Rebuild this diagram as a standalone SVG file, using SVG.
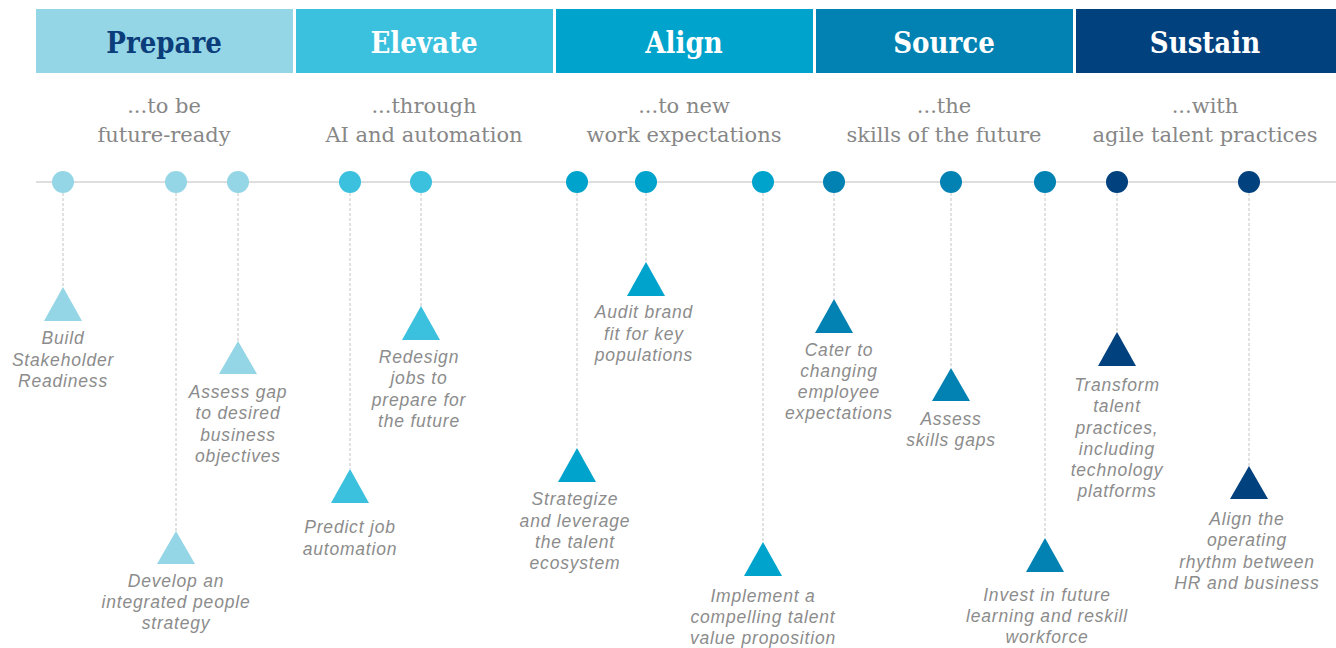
<svg xmlns="http://www.w3.org/2000/svg" width="1336" height="648" viewBox="0 0 1336 648">
<style>
.hdr{font-family:"DejaVu Serif Condensed","DejaVu Serif","Liberation Serif",serif;font-stretch:condensed;font-size:29px;font-weight:bold;text-anchor:middle}
.sub{font-family:"DejaVu Serif","Liberation Serif",serif;font-size:21px;fill:#878787;text-anchor:middle}
.lbl{font-family:"Liberation Sans",Arial,sans-serif;font-size:17.5px;font-style:italic;fill:#8c8c8c;text-anchor:middle;letter-spacing:0.8px}
.dash{stroke:#c4c4c4;stroke-width:1;stroke-dasharray:3 2;fill:none}
.c1{fill:#94D6E6}.c2{fill:#3BC1DE}.c3{fill:#00A3CB}.c4{fill:#0282B3}.c5{fill:#01417E}
</style>
<rect width="1336" height="648" fill="#ffffff"/>
<g id="headers">
<g id="h-prepare"><rect x="36" y="9" width="257" height="64" class="c1"/><text x="164" y="53" class="hdr" fill="#0B3D7A">Prepare</text></g>
<g id="h-elevate"><rect x="296" y="9" width="257" height="64" class="c2"/><text x="424" y="53" class="hdr" fill="#ffffff">Elevate</text></g>
<g id="h-align"><rect x="556" y="9" width="257" height="64" class="c3"/><text x="684" y="53" class="hdr" fill="#ffffff">Align</text></g>
<g id="h-source"><rect x="816" y="9" width="257" height="64" class="c4"/><text x="944" y="53" class="hdr" fill="#ffffff">Source</text></g>
<g id="h-sustain"><rect x="1076" y="9" width="260" height="64" class="c5"/><text x="1205" y="53" class="hdr" fill="#ffffff">Sustain</text></g>
</g>
<g id="subtitles">
<text class="sub" x="164" y="113">...to be</text><text class="sub" x="164" y="142">future-ready</text>
<text class="sub" x="424" y="113">...through</text><text class="sub" x="424" y="142">AI and automation</text>
<text class="sub" x="684" y="113">...to new</text><text class="sub" x="684" y="142">work expectations</text>
<text class="sub" x="944" y="113">...the</text><text class="sub" x="944" y="142">skills of the future</text>
<text class="sub" x="1205" y="113">...with</text><text class="sub" x="1205" y="142">agile talent practices</text>
</g>
<g id="connectors">
<line x1="36" y1="182" x2="1336" y2="182" stroke="#dedede" stroke-width="2"/>
<line class="dash" x1="63" y1="193" x2="63" y2="287"/>
<line class="dash" x1="176" y1="193" x2="176" y2="531"/>
<line class="dash" x1="238" y1="193" x2="238" y2="341"/>
<line class="dash" x1="350" y1="193" x2="350" y2="469"/>
<line class="dash" x1="421" y1="193" x2="421" y2="306"/>
<line class="dash" x1="577" y1="193" x2="577" y2="448"/>
<line class="dash" x1="646" y1="193" x2="646" y2="262"/>
<line class="dash" x1="763" y1="193" x2="763" y2="542"/>
<line class="dash" x1="834" y1="193" x2="834" y2="299"/>
<line class="dash" x1="951" y1="193" x2="951" y2="368"/>
<line class="dash" x1="1045" y1="193" x2="1045" y2="538"/>
<line class="dash" x1="1117" y1="193" x2="1117" y2="332"/>
<line class="dash" x1="1249" y1="193" x2="1249" y2="466"/>
</g>
<g id="n1"><circle cx="63" cy="182" r="11" class="c1"/><polygon points="63,287 82,321 44,321" class="c1"/>
<text class="lbl" x="63" y="344">Build</text><text class="lbl" x="63" y="366">Stakeholder</text><text class="lbl" x="63" y="387">Readiness</text></g>
<g id="n2"><circle cx="176" cy="182" r="11" class="c1"/><polygon points="176,531 195,564 157,564" class="c1"/>
<text class="lbl" x="176" y="587">Develop an</text><text class="lbl" x="176" y="608">integrated people</text><text class="lbl" x="176" y="629">strategy</text></g>
<g id="n3"><circle cx="238" cy="182" r="11" class="c1"/><polygon points="238,341 257,374 219,374" class="c1"/>
<text class="lbl" x="238" y="398">Assess gap</text><text class="lbl" x="238" y="419">to desired</text><text class="lbl" x="238" y="441">business</text><text class="lbl" x="238" y="462">objectives</text></g>
<g id="n4"><circle cx="350" cy="182" r="11" class="c2"/><polygon points="350,469 369,503 331,503" class="c2"/>
<text class="lbl" x="350" y="533">Predict job</text><text class="lbl" x="350" y="555">automation</text></g>
<g id="n5"><circle cx="421" cy="182" r="11" class="c2"/><polygon points="421,306 440,340 402,340" class="c2"/>
<text class="lbl" x="419" y="363">Redesign</text><text class="lbl" x="419" y="384">jobs to</text><text class="lbl" x="419" y="406">prepare for</text><text class="lbl" x="419" y="427">the future</text></g>
<g id="n6"><circle cx="577" cy="182" r="11" class="c3"/><polygon points="577,448 596,482 558,482" class="c3"/>
<text class="lbl" x="575" y="505">Strategize</text><text class="lbl" x="575" y="527">and leverage</text><text class="lbl" x="575" y="548">the talent</text><text class="lbl" x="575" y="569">ecosystem</text></g>
<g id="n7"><circle cx="646" cy="182" r="11" class="c3"/><polygon points="646,262 665,296 627,296" class="c3"/>
<text class="lbl" x="644" y="318">Audit brand</text><text class="lbl" x="644" y="340">fit for key</text><text class="lbl" x="644" y="361">populations</text></g>
<g id="n8"><circle cx="763" cy="182" r="11" class="c3"/><polygon points="763,542 782,576 744,576" class="c3"/>
<text class="lbl" x="763" y="602">Implement a</text><text class="lbl" x="763" y="623">compelling talent</text><text class="lbl" x="763" y="644">value proposition</text></g>
<g id="n9"><circle cx="834" cy="182" r="11" class="c4"/><polygon points="834,299 853,333 815,333" class="c4"/>
<text class="lbl" x="839" y="356">Cater to</text><text class="lbl" x="839" y="377">changing</text><text class="lbl" x="839" y="398">employee</text><text class="lbl" x="839" y="419">expectations</text></g>
<g id="n10"><circle cx="951" cy="182" r="11" class="c4"/><polygon points="951,368 970,401 932,401" class="c4"/>
<text class="lbl" x="951" y="425">Assess</text><text class="lbl" x="951" y="446">skills gaps</text></g>
<g id="n11"><circle cx="1045" cy="182" r="11" class="c4"/><polygon points="1045,538 1064,572 1026,572" class="c4"/>
<text class="lbl" x="1047" y="601">Invest in future</text><text class="lbl" x="1047" y="622">learning and reskill</text><text class="lbl" x="1047" y="643">workforce</text></g>
<g id="n12"><circle cx="1117" cy="182" r="11" class="c5"/><polygon points="1117,332 1136,366 1098,366" class="c5"/>
<text class="lbl" x="1117" y="391">Transform</text><text class="lbl" x="1117" y="412">talent</text><text class="lbl" x="1117" y="434">practices,</text><text class="lbl" x="1117" y="455">including</text><text class="lbl" x="1117" y="476">technology</text><text class="lbl" x="1117" y="497">platforms</text></g>
<g id="n13"><circle cx="1249" cy="182" r="11" class="c5"/><polygon points="1249,466 1268,499 1230,499" class="c5"/>
<text class="lbl" x="1247" y="525">Align the</text><text class="lbl" x="1247" y="546">operating</text><text class="lbl" x="1247" y="568">rhythm between</text><text class="lbl" x="1247" y="589">HR and business</text></g>
</svg>
